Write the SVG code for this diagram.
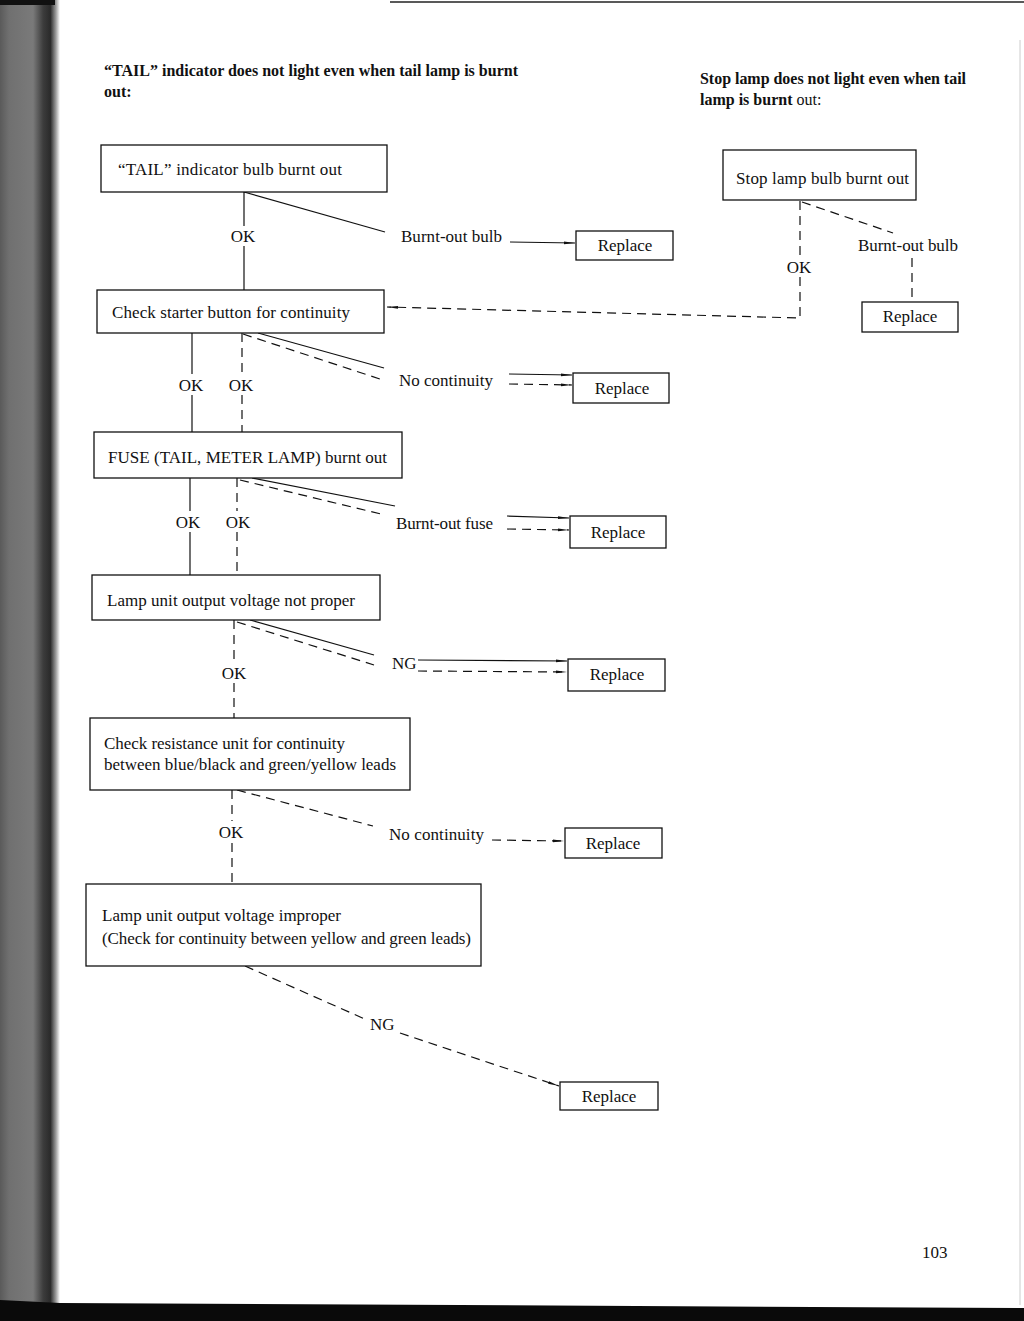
<svg xmlns="http://www.w3.org/2000/svg" width="1024" height="1321" viewBox="0 0 1024 1321">
<defs>
<linearGradient id="bind" x1="0" y1="0" x2="1" y2="0">
<stop offset="0" stop-color="#5a5a5a"/>
<stop offset="0.15" stop-color="#707070"/>
<stop offset="0.55" stop-color="#7a7a7a"/>
<stop offset="0.72" stop-color="#3c3c3c"/>
<stop offset="0.84" stop-color="#2a2a2a"/>
<stop offset="0.93" stop-color="#9a9a9a"/>
<stop offset="1" stop-color="#ffffff"/>
</linearGradient>
<marker id="ah" markerUnits="userSpaceOnUse" markerWidth="12" markerHeight="6" refX="11" refY="3" orient="auto">
<path d="M0,1.6 L11,3 L0,4.4 z" fill="#111"/>
</marker>
</defs>
<style>
.box{fill:#fff;stroke:#111;stroke-width:1.3}
.t{font-family:"Liberation Serif","Times New Roman",serif;font-size:17px;fill:#111}
.h{font-family:"Liberation Serif","Times New Roman",serif;font-size:16px;font-weight:bold;fill:#111}
.c{text-anchor:middle}
.s{fill:none;stroke:#111;stroke-width:1.2}
.d{fill:none;stroke:#111;stroke-width:1.2;stroke-dasharray:9 6}
</style>
<rect width="1024" height="1321" fill="#fff"/>
<rect x="0" y="0" width="60" height="1321" fill="url(#bind)"/>
<rect x="0" y="0" width="55" height="5" fill="#111"/>
<line x1="390" y1="2" x2="1024" y2="2" stroke="#222" stroke-width="1.5"/>
<polygon points="0,1300 60,1303 1024,1308 1024,1321 0,1321" fill="#0a0a0a"/>
<line x1="1020" y1="40" x2="1020" y2="1305" stroke="#ccc" stroke-width="1"/>

<g id="headings">
<text class="h" x="104" y="76" textLength="414">“TAIL” indicator does not light even when tail lamp is burnt</text>
<text class="h" x="104" y="97">out:</text>
<text class="h" x="700" y="84" textLength="266">Stop lamp does not light even when tail</text>
<text x="700" y="105" class="h">lamp is burnt <tspan font-weight="normal">out:</tspan></text>
</g>

<g id="connectors">
<!-- box1 -->
<line class="s" x1="244" y1="192" x2="244" y2="226"/>
<line class="s" x1="244" y1="246" x2="244" y2="290"/>
<line class="s" x1="244" y1="192" x2="385" y2="232"/>
<line class="s" x1="510" y1="242" x2="575" y2="243" marker-end="url(#ah)"/>
<!-- stop lamp -->
<line class="d" x1="802" y1="202" x2="893" y2="233"/>
<line class="d" x1="912" y1="258" x2="912" y2="302"/>
<polyline class="d" points="800,201 800,256"/>
<polyline class="d" points="800,277 800,318 387,307" marker-end="url(#ah)"/>
<!-- box2 -->
<line class="s" x1="192" y1="333" x2="192" y2="374"/>
<line class="s" x1="192" y1="395" x2="192" y2="432"/>
<line class="d" x1="242" y1="333" x2="242" y2="374"/>
<line class="d" x1="242" y1="395" x2="242" y2="432"/>
<line class="s" x1="258" y1="333" x2="384" y2="368"/>
<line class="d" x1="243" y1="334" x2="383" y2="380"/>
<line class="s" x1="509" y1="374" x2="572" y2="375" marker-end="url(#ah)"/>
<line class="d" x1="509" y1="384" x2="572" y2="385" marker-end="url(#ah)"/>
<!-- box3 -->
<line class="s" x1="190" y1="478" x2="190" y2="511"/>
<line class="s" x1="190" y1="532" x2="190" y2="575"/>
<line class="d" x1="237" y1="478" x2="237" y2="511"/>
<line class="d" x1="237" y1="532" x2="237" y2="575"/>
<line class="s" x1="252" y1="478" x2="395" y2="506"/>
<line class="d" x1="240" y1="480" x2="385" y2="515"/>
<line class="s" x1="507" y1="516" x2="569" y2="518" marker-end="url(#ah)"/>
<line class="d" x1="507" y1="529" x2="569" y2="530" marker-end="url(#ah)"/>
<!-- box4 -->
<line class="d" x1="234" y1="620" x2="234" y2="661"/>
<line class="d" x1="234" y1="683" x2="234" y2="718"/>
<line class="s" x1="250" y1="620" x2="374" y2="655"/>
<line class="d" x1="237" y1="622" x2="374" y2="665"/>
<line class="s" x1="418" y1="660" x2="567" y2="661" marker-end="url(#ah)"/>
<line class="d" x1="418" y1="671" x2="567" y2="672" marker-end="url(#ah)"/>
<!-- box5 -->
<line class="d" x1="232" y1="790" x2="232" y2="821"/>
<line class="d" x1="232" y1="843" x2="232" y2="884"/>
<line class="d" x1="237" y1="790" x2="373" y2="826"/>
<line class="d" x1="492" y1="840" x2="564" y2="841" marker-end="url(#ah)"/>
<!-- box6 -->
<line class="d" x1="245" y1="966" x2="367" y2="1020"/>
<line class="d" x1="400" y1="1033" x2="559" y2="1086" marker-end="url(#ah)"/>
</g>

<g id="labels">
<text class="t c" x="243" y="242">OK</text>
<text class="t" x="401" y="242" textLength="101">Burnt-out bulb</text>
<text class="t c" x="799" y="273">OK</text>
<text class="t" x="858" y="251" textLength="100">Burnt-out bulb</text>
<text class="t c" x="191" y="391">OK</text>
<text class="t c" x="241" y="391">OK</text>
<text class="t" x="399" y="386" textLength="94">No continuity</text>
<text class="t c" x="188" y="528">OK</text>
<text class="t c" x="238" y="528">OK</text>
<text class="t" x="396" y="529" textLength="97">Burnt-out fuse</text>
<text class="t c" x="234" y="679">OK</text>
<text class="t" x="392" y="669">NG</text>
<text class="t c" x="231" y="838">OK</text>
<text class="t" x="389" y="840" textLength="95">No continuity</text>
<text class="t" x="370" y="1030">NG</text>
</g>

<g id="n1">
<rect class="box" x="101" y="145" width="286" height="47"/>
<text class="t" x="118" y="175" textLength="224">“TAIL” indicator bulb burnt out</text>
</g>
<g id="r1">
<rect class="box" x="576" y="231" width="97" height="29"/>
<text class="t c" x="625" y="251">Replace</text>
</g>
<g id="s1">
<rect class="box" x="723" y="150" width="193" height="50"/>
<text class="t" x="736" y="184" textLength="173">Stop lamp bulb burnt out</text>
</g>
<g id="rs">
<rect class="box" x="862" y="302" width="96" height="30"/>
<text class="t c" x="910" y="322">Replace</text>
</g>
<g id="n2">
<rect class="box" x="97" y="290" width="287" height="43"/>
<text class="t" x="112" y="318" textLength="238">Check starter button for continuity</text>
</g>
<g id="r2">
<rect class="box" x="573" y="373" width="96" height="30"/>
<text class="t c" x="622" y="394">Replace</text>
</g>
<g id="n3">
<rect class="box" x="94" y="432" width="308" height="46"/>
<text class="t" x="108" y="463" textLength="279">FUSE (TAIL, METER LAMP) burnt out</text>
</g>
<g id="r3">
<rect class="box" x="570" y="516" width="96" height="32"/>
<text class="t c" x="618" y="538">Replace</text>
</g>
<g id="n4">
<rect class="box" x="92" y="575" width="288" height="45"/>
<text class="t" x="107" y="606" textLength="248">Lamp unit output voltage not proper</text>
</g>
<g id="r4">
<rect class="box" x="568" y="659" width="97" height="32"/>
<text class="t c" x="617" y="680">Replace</text>
</g>
<g id="n5">
<rect class="box" x="90" y="718" width="320" height="72"/>
<text class="t" x="104" y="749" textLength="241">Check resistance unit for continuity</text>
<text class="t" x="104" y="770" textLength="292">between blue/black and  green/yellow leads</text>
</g>
<g id="r5">
<rect class="box" x="565" y="828" width="97" height="30"/>
<text class="t c" x="613" y="849">Replace</text>
</g>
<g id="n6">
<rect class="box" x="86" y="884" width="395" height="82"/>
<text class="t" x="102" y="921" textLength="239">Lamp unit output voltage improper</text>
<text class="t" x="102" y="944" textLength="369">(Check for continuity between yellow and green leads)</text>
</g>
<g id="r6">
<rect class="box" x="560" y="1082" width="98" height="28"/>
<text class="t c" x="609" y="1102">Replace</text>
</g>

<text class="t" x="922" y="1258">103</text>
</svg>
